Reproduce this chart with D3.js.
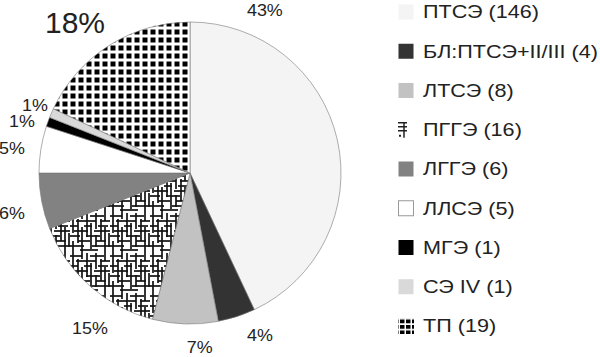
<!DOCTYPE html>
<html><head><meta charset="utf-8">
<script src="https://cdn.jsdelivr.net/npm/d3@7"></script>
<style>
html,body{margin:0;padding:0;background:#fff;}
svg{display:block;font-family:"Liberation Sans",Arial,sans-serif;}
</style></head>
<body>
<svg id="chart" width="600" height="357"></svg>
<script>
// ---- data ----
const categories = ["ПТСЭ","БЛ:ПТСЭ+II/III","ЛТСЭ","ПГГЭ","ЛГГЭ","ЛЛСЭ","МГЭ","СЭ IV","ТП"];
const counts     = [146, 4, 8, 16, 6, 5, 1, 1, 19];
const percents   = [43, 4, 7, 15, 6, 5, 1, 1, 18];
const fills      = ["#f4f4f4","#333333","#c2c2c2","url(#pggeP)","#828282","#ffffff","#000000","#d9d9d9","url(#tpP)"];
// label placement (angle in degrees clockwise from top, radius from centre)
const labelAngles = [24.8, 156.8, 176.8, 212.7, 257, 277.7, 286.9, 293.4, 322.7];
const labelRadii  = [178.5, 177.4, 175.3, 185.3, 182.7, 179.6, 175.6, 168.9, 189.8];
const labelSizes  = [16, 16, 16, 16, 16, 16, 16, 16, 30];
const labelStretch= [1.12, 1.12, 1.12, 1.12, 1.12, 1.12, 1.12, 1.12, 1.0];

const svg = d3.select("#chart");
const cx = 190, cy = 173, R = 151;

// ---- patterns ----
const defs = svg.append("defs");
const tp = defs.append("pattern").attr("id","tpP").attr("patternUnits","userSpaceOnUse")
  .attr("width",8).attr("height",8).attr("x",cx+1).attr("y",cy+2);
tp.append("rect").attr("width",8).attr("height",8).attr("fill","#fff");
tp.append("rect").attr("x",1.5).attr("y",1.5).attr("width",5).attr("height",5).attr("fill","#000");

const tpS = defs.append("pattern").attr("id","tpS").attr("patternUnits","userSpaceOnUse")
  .attr("width",6).attr("height",5.5).attr("x",398).attr("y",318);
tpS.append("rect").attr("width",6).attr("height",5.5).attr("fill","#fff");
tpS.append("rect").attr("x",0).attr("y",0).attr("width",4.5).attr("height",3.8).attr("fill","#000");

const pg = defs.append("pattern").attr("id","pggeP").attr("patternUnits","userSpaceOnUse")
  .attr("width",40).attr("height",40);
pg.append("rect").attr("width",40).attr("height",40).attr("fill","#fff");
const hSegs = [[3,0,12],[3,20,34],[8,6,26],[8,30,40],[13,0,8],[13,14,22],[13,28,38],[18,4,18],[18,24,40],
  [23,0,10],[23,16,30],[28,8,20],[28,26,36],[33,0,14],[33,22,40],[37,10,28]];
const vSegs = [[3,0,20],[3,28,40],[8,6,30],[12,14,40],[12,0,6],[17,0,24],[21,10,36],[26,0,16],[26,22,34],
  [31,6,28],[35,14,40],[35,0,8],[39,20,34]];
pg.selectAll("line.h").data(hSegs).join("line").attr("class","h")
  .attr("x1",d=>d[1]).attr("x2",d=>d[2]).attr("y1",d=>d[0]).attr("y2",d=>d[0])
  .attr("stroke","#111").attr("stroke-width",1.7);
pg.selectAll("line.v").data(vSegs).join("line").attr("class","v")
  .attr("y1",d=>d[1]).attr("y2",d=>d[2]).attr("x1",d=>d[0]).attr("x2",d=>d[0])
  .attr("stroke","#111").attr("stroke-width",1.7);

// ---- pie ----
const pie = d3.pie().sort(null).value(d=>d)(percents);
const arc = d3.arc().innerRadius(0).outerRadius(R);
const g = svg.append("g").attr("transform",`translate(${cx},${cy})`);
g.selectAll("path").data(pie).join("path")
  .attr("d",arc)
  .attr("fill",(d,i)=>fills[i])
  .attr("stroke","#777").attr("stroke-width",0.6);

// ---- labels ----
g.selectAll("text.pl").data(pie).join("text").attr("class","pl")
  .attr("transform",(d,i)=>{
    const x = labelRadii[i]*Math.sin(labelAngles[i]*Math.PI/180);
    const y = -labelRadii[i]*Math.cos(labelAngles[i]*Math.PI/180);
    return `translate(${x},${y}) scale(${labelStretch[i]},1)`;
  })
  .attr("text-anchor","middle").attr("dominant-baseline","central")
  .attr("font-size",(d,i)=>labelSizes[i]+"px").attr("fill","#222")
  .text((d,i)=>percents[i]+"%");

// ---- legend ----
const ly = d3.scalePoint().domain(d3.range(categories.length)).range([12, 326]);
const leg = svg.append("g");
const items = leg.selectAll("g").data(categories).join("g")
  .attr("transform",(d,i)=>`translate(398,${ly(i)})`);
items.each(function(d,i){
  const s = d3.select(this);
  if (i === 3) {
    s.append("line").attr("x1",0).attr("x2",9).attr("y1",-7).attr("y2",-7).attr("stroke","#222").attr("stroke-width",1.5);
    s.append("line").attr("x1",0).attr("x2",9).attr("y1",-3).attr("y2",-3).attr("stroke","#222").attr("stroke-width",1.5);
    s.append("line").attr("x1",0).attr("x2",9).attr("y1",1).attr("y2",1).attr("stroke","#222").attr("stroke-width",1.5);
    s.append("line").attr("x1",6).attr("x2",6).attr("y1",-7).attr("y2",8).attr("stroke","#222").attr("stroke-width",1.5);
    s.append("rect").attr("x",1).attr("y",5).attr("width",2).attr("height",2).attr("fill","#222");
  } else if (i === 8) {
    s.append("rect").attr("x",0).attr("y",-8).attr("width",16).attr("height",16).attr("fill","url(#tpS)");
  } else {
    s.append("rect").attr("x",0.5).attr("y",-7.5).attr("width",15).attr("height",15)
      .attr("fill",fills[i]).attr("stroke", i===5 ? "#999" : "none").attr("stroke-width",1);
  }
  s.append("text").attr("transform","translate(25,0) scale(1.2,1)").attr("dominant-baseline","central")
    .attr("font-size","18px").attr("fill","#222")
    .text(`${d} (${counts[i]})`);
});
</script>
</body></html>
